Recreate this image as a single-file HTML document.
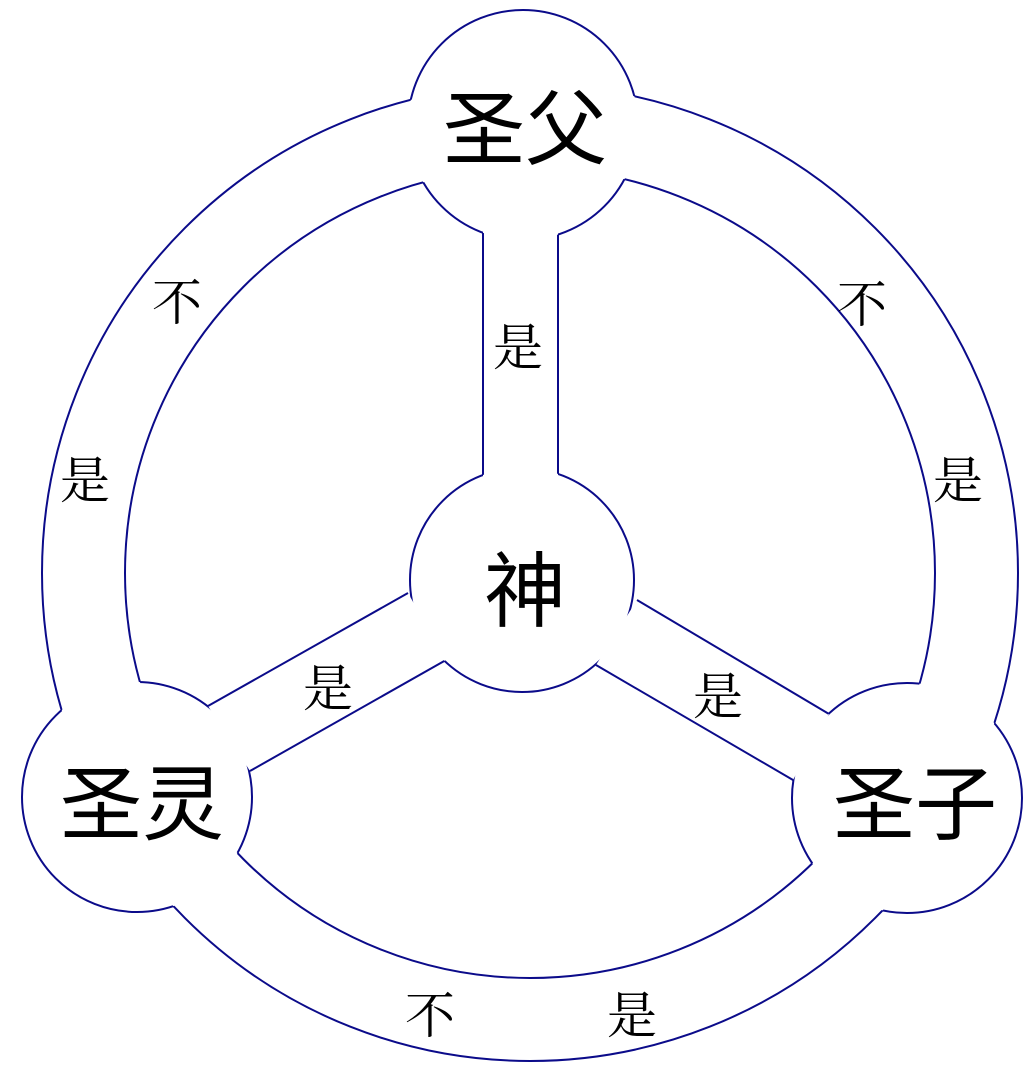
<!DOCTYPE html>
<html><head><meta charset="utf-8"><style>
html,body{margin:0;padding:0;background:#fff;}
svg{display:block;}
.big{font-family:"Liberation Sans","Noto Sans CJK SC",sans-serif;font-size:82px;fill:#000;text-anchor:middle;}
.sm{font-family:"Liberation Serif","Noto Serif CJK SC",serif;font-size:50px;fill:#000;text-anchor:middle;}
</style></head><body>
<svg width="1035" height="1080" viewBox="0 0 1035 1080" xmlns="http://www.w3.org/2000/svg">
<defs>
<mask id="noNodes" maskUnits="userSpaceOnUse" x="0" y="0" width="1035" height="1080">
<rect x="0" y="0" width="1035" height="1080" fill="#fff"/>
<circle cx="523" cy="125" r="115" fill="#000"/>
<circle cx="137" cy="797" r="115" fill="#000"/>
<circle cx="907" cy="798" r="115" fill="#000"/>
<circle cx="522" cy="580" r="112" fill="#000"/>
</mask>
<mask id="noBands" maskUnits="userSpaceOnUse" x="0" y="0" width="1035" height="1080">
<rect x="0" y="0" width="1035" height="1080" fill="#fff"/>
<path fill="#000" fill-rule="evenodd" d="M530,85 a488,488 0 1,0 0.01,0 Z M530,168 a405,405 0 1,0 0.01,0 Z"/>
<rect x="483" y="150" width="75" height="340" fill="#000"/>
<polygon points="408,593 446,660 250,771 208,706" fill="#000"/>
<polygon points="637,600 829,714 793,780 596,665" fill="#000"/>
</mask>
</defs>
<g fill="none" stroke="#0b0b8a" stroke-width="2" mask="url(#noNodes)">
<circle cx="530" cy="573" r="488"/>
<circle cx="530" cy="573" r="405"/>
<line x1="483" y1="150" x2="483" y2="490"/>
<line x1="558" y1="150" x2="558" y2="490"/>
<line x1="408" y1="593" x2="208" y2="706"/>
<line x1="446" y1="660" x2="250" y2="771"/>
<line x1="637" y1="600" x2="829" y2="714"/>
<line x1="596" y1="665" x2="793" y2="780"/>
</g>
<g fill="none" stroke="#0b0b8a" stroke-width="2" mask="url(#noBands)">
<circle cx="523" cy="125" r="115"/>
<circle cx="137" cy="797" r="115"/>
<circle cx="907" cy="798" r="115"/>
<circle cx="522" cy="580" r="112"/>
</g>
<text class="big" x="525" y="158">圣父</text>
<text class="big" x="525" y="620">神</text>
<text class="big" x="142" y="833">圣灵</text>
<text class="big" x="915" y="833">圣子</text>
<text class="sm" x="177" y="320">不</text>
<text class="sm" x="85" y="498">是</text>
<text class="sm" x="518" y="365">是</text>
<text class="sm" x="328" y="706">是</text>
<text class="sm" x="718" y="714">是</text>
<text class="sm" x="862" y="322">不</text>
<text class="sm" x="958" y="498">是</text>
<text class="sm" x="430" y="1033">不</text>
<text class="sm" x="632" y="1033">是</text>
</svg>
</body></html>
